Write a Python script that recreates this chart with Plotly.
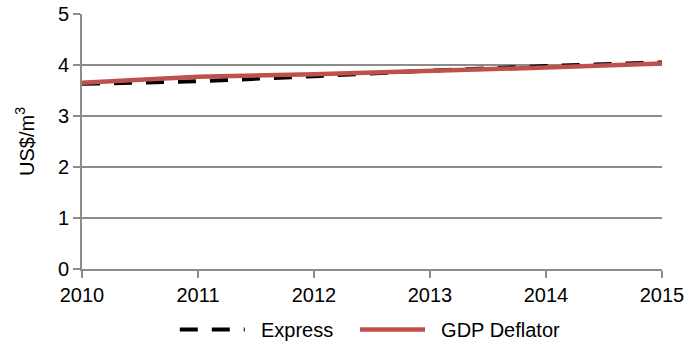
import plotly.graph_objects as go

years = [2010, 2011, 2012, 2013, 2014, 2015]
express = [3.63, 3.68, 3.78, 3.89, 3.98, 4.05]
gdp_deflator = [3.65, 3.77, 3.82, 3.88, 3.95, 4.03]

FONT = "Liberation Sans, Arial"
PAD = "\u00a0\u00a0"

fig = go.Figure()
fig.add_trace(go.Scatter(x=years, y=express, name=PAD + "Express", mode="lines",
                         legend="legend",
                         line=dict(color="black", width=4, dash="18px,14px")))
fig.add_trace(go.Scatter(x=years, y=gdp_deflator, name=PAD + "GDP Deflator", mode="lines",
                         legend="legend2",
                         line=dict(color="#C0504D", width=4.5)))

leg_common = dict(orientation="h", xanchor="left", yref="container", y=0.0,
                  yanchor="bottom", font=dict(family=FONT, size=20), itemwidth=65,
                  bgcolor="rgba(0,0,0,0)")

fig.update_layout(
    width=685, height=349,
    margin=dict(l=82, r=23, t=14, b=80, autoexpand=False),
    paper_bgcolor="white", plot_bgcolor="white",
    font=dict(family=FONT, size=20, color="black"),
    showlegend=True,
    legend=dict(x=0.16, **leg_common),
    legend2=dict(x=0.4707, **leg_common),
    xaxis=dict(range=[2010, 2015], tickmode="array", tickvals=years,
               ticktext=[str(y) for y in years],
               showgrid=False, showline=True, linecolor="#8c8c8c", linewidth=2,
               ticks="outside", ticklen=7, tickcolor="#8c8c8c", tickwidth=2,
               zeroline=False, fixedrange=True, automargin=False),
    yaxis=dict(range=[0, 5], tickvals=[0, 1, 2, 3, 4, 5],
               showgrid=True, gridcolor="#8c8c8c", gridwidth=2,
               showline=True, linecolor="#8c8c8c", linewidth=2,
               ticks="outside", ticklen=7, tickcolor="#8c8c8c", tickwidth=2,
               zeroline=False, automargin=False,
               title=dict(text="US$/m<sup>3</sup>", standoff=18, font=dict(family=FONT, size=20))),
)

fig.write_html("out.html")
